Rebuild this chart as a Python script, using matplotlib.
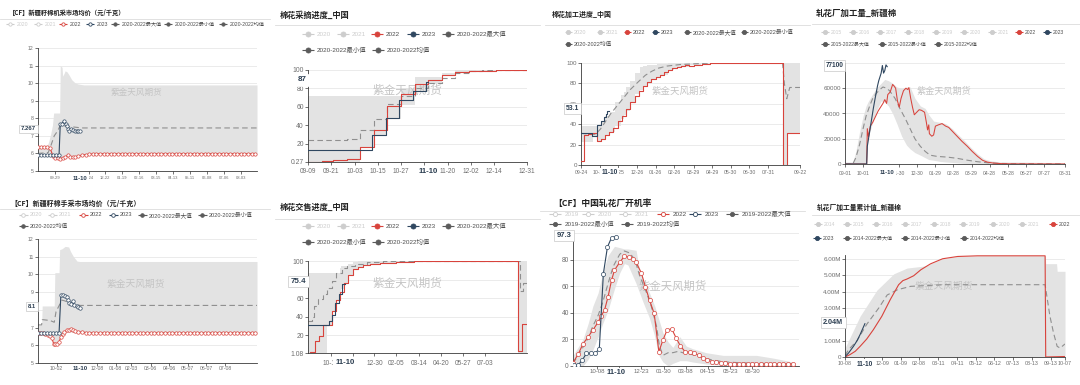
import datetime as dt
import matplotlib
matplotlib.use('Agg')
import matplotlib.pyplot as plt

plt.rcParams['font.family'] = ['Liberation Sans', 'Noto Sans CJK SC', 'DejaVu Sans']
plt.rcParams['axes.unicode_minus'] = False

W, H = 1080, 385
RED = '#d8433c'
BLUE = '#2f4760'
MEAN = '#8f8f8f'
BAND = '#e3e3e3'
LIGHT = '#cdcdcd'
DARK = '#5b5b5b'
NAVY = '#2b3d50'
WM = '#c4c4c4'
TICKC = '#6e6e6e'
CJK = ['Noto Sans CJK SC', 'DejaVu Sans']

# ============================ DATA ============================
# ---- Panel 1: 【CF】新疆籽棉机采市场均价 (x = days since season start) ----
p1_start = '2023-09-01'
p1_xticks = ['09-29', '11-24', '12-22', '01-19', '02-16', '03-15', '04-13', '05-11', '06-08', '07-06', '08-03']
p1_yticks = [5, 6, 7, 8, 9, 10, 11, 12]
p1_yticklabels = ['5', '6', '7', '8', '9', '10', '11', '12']
p1_band_x = [0, 15, 18, 21, 24, 26, 30, 33, 36, 37, 40, 41, 44, 45, 48, 51, 56, 62, 67, 76, 80, 364]
p1_band_hi = [6.4, 6.4, 6.7, 7.1, 7.6, 8.3, 8.3, 8.3, 8.3, 11.0, 10.9, 10.4, 10.6, 10.7, 10.65, 10.5, 10.2, 10.0, 9.95, 9.9, 9.9, 9.9]
p1_band_lo = [5.93, 5.93, 5.93, 5.93, 5.85, 5.8, 5.72, 5.68, 5.7, 5.7, 5.72, 5.74, 5.78, 5.8, 5.85, 5.88, 5.82, 5.8, 5.85, 5.9, 5.93, 5.95]
p1_mean_x = [0, 17, 22, 27, 33, 37, 45, 60, 73, 364]
p1_mean_y = [6.0, 6.05, 6.5, 7.0, 7.3, 7.6, 7.55, 7.5, 7.45, 7.45]
p1_2023_x = [0, 5, 10, 15, 20, 25, 30, 35, 37, 40, 43, 46, 48, 50, 52, 55, 58, 61, 64, 67, 70]
p1_2023_y = [5.93, 5.93, 5.93, 5.93, 5.93, 5.93, 5.93, 5.93, 7.65, 7.7, 7.85, 7.65, 7.55, 7.4, 7.25, 7.4, 7.35, 7.3, 7.25, 7.3, 7.267]
p1_2022_x = [0, 5, 10, 15, 20, 25, 29, 33, 37, 41, 45, 50, 54, 58, 62, 67, 73,
             79, 85, 91, 97, 103, 109, 115, 121, 127, 133, 139, 145, 151, 157, 163, 169,
             175, 181, 187, 193, 199, 205, 211, 217, 223, 229, 235, 241, 247, 253, 259, 265,
             271, 277, 283, 289, 295, 301, 307, 313, 319, 325, 331, 337, 343, 349, 355, 361]
p1_2022_y = [6.35, 6.35, 6.35, 6.34, 6.3, 5.85, 5.75, 5.72, 5.7, 5.75, 5.8, 5.9, 5.82, 5.78, 5.8, 5.85, 5.9,
             5.93, 5.95, 5.97, 5.98, 5.98, 5.98, 5.99, 5.98, 5.98, 5.98, 5.98, 5.98, 5.97, 5.98, 5.98, 5.98,
             5.98, 5.98, 5.98, 5.98, 5.98, 5.98, 5.98, 5.98, 5.98, 5.97, 5.98, 5.98, 5.98, 5.98, 5.98, 5.98,
             5.98, 5.98, 5.98, 5.98, 5.98, 5.98, 5.98, 5.98, 5.98, 5.98, 5.98, 5.98, 5.98, 5.98, 5.98, 5.98]

# ---- Panel 2: 棉花采摘进度_中国 ----
p2_start = '2023-09-09'
p2_xticks = ['09-09', '09-21', '10-03', '10-15', '10-27', '11-08', '11-20', '12-02', '12-14', '12-31']
p2_hidden = ['11-08']
p2_yticks = [0.27, 20, 40, 60, 80, 100]
p2_yticklabels = ['0.27', '20', '40', '60', '80', '100']
p2_band_x = [0, 27, 34, 41, 48, 55, 62, 69, 76, 83, 90, 113]
p2_band_hi = [72, 72, 72, 72, 80, 92, 92, 97, 99.5, 100, 100, 100]
p2_band_lo = [0.27, 15, 29, 47, 62, 76, 85, 93, 97, 98.8, 99.3, 100]
p2_mean_x = [0, 20, 27, 34, 41, 48, 55, 62, 69, 76, 83, 90, 113]
p2_mean_y = [24.5, 25.5, 35.5, 47, 63, 72, 80, 86, 91, 96.5, 99, 99.5, 100]
p2_2022_x = [0, 7, 13, 20, 27, 34, 41, 48, 55, 62, 69, 76, 83, 90, 97, 104, 113]
p2_2022_y = [0.5, 1.5, 2.5, 3.5, 16, 34.5, 61, 73.5, 85, 89.5, 95, 98, 98.8, 99.3, 99.6, 99.8, 100]
p2_2023_x = [0, 33, 40, 47, 54, 61, 62]
p2_2023_y = [13, 29.5, 48.5, 67.5, 77, 87, 87]

# ---- Panel 3: 棉花加工进度_中国 ----
p3_start = '2023-09-24'
p3_xticks = ['09-24', '10-25', '11-25', '12-26', '01-26', '02-26', '03-29', '04-29', '05-30', '06-30', '07-31', '09-22']
p3_yticks = [0, 20, 40, 60, 80, 100]
p3_yticklabels = ['0', '20', '40', '60', '80', '100']
p3_band_x = [0, 14, 20, 27, 33, 40, 48, 57, 66, 71, 75, 82, 90, 98, 103, 110, 117, 126, 131, 145, 154, 160, 180, 200, 220, 335, 343, 364]
p3_band_hi = [38, 38, 38, 38, 42, 48, 52, 62, 69, 72, 76, 82, 90, 96, 97, 98, 98.5, 99, 99.3, 99.6, 100, 100, 100, 100, 100, 100, 100, 100]
p3_band_lo = [22.5, 22.5, 28, 24, 25, 28, 32, 38, 45, 49, 53, 62, 70, 74, 77, 80, 83, 86, 88, 93, 94.5, 96, 98, 99, 100, 0, 31, 31]
p3_mean_x = [0, 24, 32, 40, 49, 60, 71, 82, 96, 107, 118, 129, 143, 165, 192, 220, 335, 338, 342, 347, 364]
p3_mean_y = [31, 30, 35, 42, 50, 58, 66, 74, 82, 88, 92, 95, 97, 98.5, 99.3, 100, 100, 80, 65, 76, 76]
p3_2022_x = [0, 5, 12, 19, 26, 33, 40, 47, 54, 61, 68, 75, 82, 89, 96, 103, 110, 117, 124, 131,
             138, 145, 152, 159, 166, 173, 180, 187, 194, 201, 208, 215, 222, 335, 343, 364]
p3_2022_y = [3.5, 29, 30, 31, 24, 25.5, 29, 32.5, 36, 43, 48, 55, 62, 68, 73, 77, 81, 84, 86, 88,
             91, 93, 95, 96, 97, 98, 97.5, 98, 98.5, 99, 99.5, 99.8, 100, 0, 31.5, 31.5]
p3_2023_x = [0, 19, 27, 34, 38, 41, 44, 47]
p3_2023_y = [31.5, 28.5, 39, 43, 47, 50, 53.1, 53.1]

# ---- Panel 4: 轧花厂加工量_新疆棉 ----
p4_start = '2023-09-01'
p4_xticks = ['09-01', '10-01', '11-30', '12-30', '01-29', '02-28', '03-29', '04-28', '05-28', '06-27', '07-27', '08-31']
p4_yticks = [0, 20000, 40000, 60000, 80000]
p4_yticklabels = ['0', '20000', '40000', '60000', '']
p4_band_x = [0, 13, 18, 24, 30, 35, 38, 44, 52, 60, 66, 72, 79, 86, 94, 102, 108, 116, 125, 133,
             139, 147, 158, 167, 178, 186, 197, 209, 220, 231, 242, 259, 287, 332, 365]
p4_band_hi = [1500, 1500, 10000, 25000, 38000, 46000, 49000, 54000, 60000, 64000, 67000, 66000, 64000, 61000,
              60000, 61000, 61000, 52000, 46000, 44000, 39000, 34000, 33000, 32000, 28000, 24000, 19000,
              13000, 8000, 4000, 2500, 1500, 1500, 1200, 1000]
p4_band_lo = [0, 0, 0, 0, 0, 0, 20000, 30000, 42000, 50000, 49000, 46000, 40000, 32000, 22000, 15000,
              12000, 9000, 7000, 5000, 3500, 3000, 2000, 1600, 1200, 900, 500, 300, 0, 0, 0, 0, 0, 0, 0]
p4_mean_x = [0, 13, 18, 24, 30, 35, 41, 46, 52, 58, 63, 69, 74, 83, 91, 100, 108, 116, 125, 133,
             141, 153, 169, 186, 203, 220, 236, 253, 276, 332, 365]
p4_mean_y = [0, 0, 5000, 15000, 28000, 38000, 46000, 52000, 56000, 59000, 61000, 60000, 58000, 52000,
             44000, 36000, 28000, 20000, 14000, 10000, 7000, 6000, 5500, 4500, 3000, 1800, 1000, 500,
             300, 200, 100]
p4_2022_x = [0, 36, 37, 39, 42, 46, 50, 55, 59, 63, 66, 69, 71, 75, 79, 81, 84, 87, 90, 93,
             97, 101, 104, 106, 109, 112, 115, 119, 123, 127, 132, 135, 137, 139, 140, 144, 147, 150,
             155, 161, 167, 172, 178, 186, 194, 203, 211, 220, 228, 236, 245, 259, 276, 365]
p4_2022_y = [0, 0, 28000, 21500, 30000, 33000, 37000, 42000, 45000, 48000, 51000, 48000, 55000, 57000,
             63000, 62000, 60000, 50000, 45000, 52000, 58000, 60000, 59000, 60500, 52000, 45000, 39000,
             41000, 43000, 42500, 41000, 33000, 27000, 31000, 24000, 22000, 23000, 30000, 31000, 32000,
             30000, 29000, 26000, 22000, 18000, 14000, 10000, 6000, 3000, 1500, 800, 300, 100, 0]
p4_2023_x = [0, 36, 37, 39, 41, 43, 45, 47, 50, 52, 54, 56, 58, 60, 62, 64, 66, 68, 70]
p4_2023_y = [0, 0, 14000, 20000, 26000, 32000, 38000, 44000, 52000, 57000, 62000, 66000, 69000, 72000,
             78000, 72000, 74000, 78500, 77100]

# ---- Panel 5: 【CF】新疆籽棉手采市场均价 ----
p5_start = '2023-09-01'
p5_xticks = ['10-02', '12-08', '01-08', '02-03', '03-06', '04-06', '05-07', '06-07', '07-08']
p5_yticks = [5, 6, 7, 8, 9, 10, 11, 12]
p5_yticklabels = ['5', '6', '7', '', '9', '10', '11', '12']
p5_band_x = [0, 6, 7, 20, 25, 27, 28, 31, 35, 36, 40, 45, 48, 51, 54, 59, 65, 70, 364]
p5_band_hi = [7.14, 7.14, 8.22, 8.22, 8.22, 8.22, 10.1, 10.1, 10.1, 11.4, 11.45, 11.58, 11.57, 11.55, 11.3, 11.0, 10.75, 10.73, 10.73]
p5_band_lo = [6.68, 6.66, 6.65, 6.55, 6.35, 6.1, 6.05, 6.1, 6.25, 6.35, 6.55, 6.7, 6.75, 6.75, 6.75, 6.72, 6.7, 6.7, 6.7]
p5_mean_x = [0, 6, 7, 20, 27, 30, 36, 40, 45, 55, 70, 364]
p5_mean_y = [7.15, 7.15, 7.45, 7.4, 7.3, 7.9, 8.3, 8.55, 8.5, 8.35, 8.25, 8.25]
p5_2023_x = [0, 5, 10, 15, 20, 25, 30, 35, 38, 41, 45, 48, 50, 52, 55, 58, 60, 64, 67, 70]
p5_2023_y = [6.7, 6.7, 6.7, 6.7, 6.7, 6.7, 6.7, 6.7, 8.82, 8.82, 8.78, 8.7, 8.55, 8.4, 8.35, 8.5, 8.3, 8.2, 8.15, 8.1]
p5_2022_x = [0, 4, 8, 12, 16, 20, 23, 26, 29, 32, 35, 38, 41, 44, 48, 52, 55, 58, 62, 67, 73,
             79, 85, 91, 97, 103, 109, 115, 121, 127, 133, 139, 145, 151, 157, 163, 169,
             175, 181, 187, 193, 199, 205, 211, 217, 223, 229, 235, 241, 247, 253, 259, 265,
             271, 277, 283, 289, 295, 301, 307, 313, 319, 325, 331, 337, 343, 349, 355, 361]
p5_2022_y = [6.7, 6.7, 6.69, 6.62, 6.6, 6.55, 6.4, 6.1, 6.05, 6.1, 6.2, 6.45, 6.62, 6.75, 6.85, 6.88, 6.92, 6.85, 6.78, 6.75, 6.74,
             6.72, 6.71, 6.7, 6.7, 6.7, 6.7, 6.7, 6.7, 6.7, 6.7, 6.71, 6.7, 6.7, 6.7, 6.7, 6.7,
             6.7, 6.7, 6.7, 6.7, 6.7, 6.7, 6.7, 6.7, 6.7, 6.7, 6.7, 6.7, 6.7, 6.7, 6.7, 6.7,
             6.7, 6.7, 6.7, 6.7, 6.7, 6.7, 6.7, 6.7, 6.7, 6.7, 6.7, 6.7, 6.7, 6.7, 6.7, 6.7]

# ---- Panel 6: 棉花交售进度_中国 ----
p6_start = '2023-09-09'
p6_xticks = ['10-17', '11-23', '12-30', '02-05', '03-14', '04-20', '05-27', '07-03']
p6_hidden = ['11-23']
p6_yticks = [1.08, 20, 40, 60, 80, 100]
p6_yticklabels = ['1.08', '20', '40', '60', '', '100']
p6_band_x = [0, 32, 40, 47, 54, 56, 61, 68, 76, 85, 93, 104, 121, 149, 178, 217, 353, 369]
p6_band_hi = [87.5, 87.5, 87.5, 87.5, 92, 95, 95, 97, 99, 99.5, 100, 100, 100, 100, 100, 100, 100, 100]
p6_band_lo = [1.08, 30, 46, 57, 66, 70, 75, 84, 90, 93, 95.5, 96.5, 97.5, 98.5, 99.3, 100, 1.08, 1.08]
p6_mean_x = [0, 6, 10, 17, 25, 32, 40, 48, 57, 65, 79, 99, 127, 172, 354, 357, 362, 369]
p6_mean_y = [35, 40, 52, 59, 64, 71, 78, 87, 92, 95, 97, 98.5, 99.5, 100, 100, 68, 76, 76]
p6_2022_x = [0, 4, 11, 19, 25, 40, 47, 54, 61, 68, 76, 85, 93, 104, 121, 149, 178, 217, 353, 361, 369]
p6_2022_y = [1.2, 2.5, 14.5, 19.5, 31, 46.5, 58, 67, 76, 85, 91, 94, 96, 97, 98, 99, 99.5, 100, 3, 32.5, 32.5]
p6_2023_x = [0, 35, 40, 46, 52, 57, 62]
p6_2023_y = [31.5, 36, 42, 55, 65, 75.4, 75.4]

# ---- Panel 7: 【CF】中国轧花厂开机率 ----
p7_start = '2023-08-28'
p7_xticks = ['10-08', '11-15', '12-23', '01-30', '03-08', '04-15', '05-23', '06-30']
p7_hidden = ['11-15']
p7_yticks = [0, 20, 40, 60, 80, 100]
p7_yticklabels = ['0', '20', '40', '60', '80', '']
p7_band_x = [0, 17, 26, 34, 43, 51, 60, 71, 80, 88, 94, 108, 114, 120, 131, 140, 147, 154, 163, 171,
             183, 194, 205, 228, 257, 285, 314, 342, 377]
p7_band_hi = [8, 20, 32, 45, 55, 70, 83, 90, 89, 88, 88, 87, 72, 65, 55, 45, 35, 25, 18, 14,
              22, 15, 13, 10, 8, 8, 8, 6, 3]
p7_band_lo = [0, 0, 5, 12, 22, 32, 42, 58, 70, 77, 76, 62, 55, 48, 36, 22, 8, 3, 0, 2,
              4, 4, 3, 1.5, 0.5, 0, 0, 0, 0]
p7_mean_x = [0, 9, 17, 26, 34, 43, 51, 60, 69, 80, 88, 97, 106, 114, 126, 134, 143, 148, 154, 163,
             171, 180, 188, 200, 211, 223, 234, 245, 262, 285, 314, 342, 377]
p7_mean_y = [2, 8, 14, 21, 30, 38, 48, 62, 75, 84, 86.5, 85, 80, 68, 55, 45, 30, 15, 8, 10,
             10, 11, 10, 9, 8, 6, 5, 4, 3, 2.5, 2, 2, 1.5]
p7_2022_x = [0, 9, 17, 26, 34, 43, 48, 54, 60, 66, 71, 80, 88, 96, 103, 108, 117, 124, 131, 139,
             147, 154, 161, 169, 177, 184, 192, 200, 207, 215, 222, 230, 238, 245, 253, 261, 268, 276,
             284, 291, 299, 307, 314, 322, 330, 337, 345, 353, 360, 368, 376]
p7_2022_y = [2.5, 9, 16.5, 22, 27, 33, 37.5, 42, 52, 64.5, 72, 78, 82.5, 82, 80.7, 78, 70, 59.5, 49.5, 39.5,
             10.75, 19.5, 27, 28, 20.7, 15, 10.75, 10.25, 9.5, 8.25, 5.75, 4.5, 3.25, 2.75, 2.5, 2, 1.75, 1.5,
             1.5, 1.5, 1.5, 1.5, 1.5, 1.5, 1.5, 1.5, 1.5, 1.5, 1.5, 1.5, 1.5]
p7_2023_x = [2, 9, 16, 23, 30, 37, 45, 52, 59, 66, 74]
p7_2023_y = [0.8, 0.8, 4.5, 9.5, 9.5, 9.5, 12.5, 69.5, 89.5, 96.5, 97.3]

# ---- Panel 8: 轧花厂加工量累计值_新疆棉 (million) ----
p8_start = '2023-10-08'
p8_xticks = ['10-08', '11-08', '12-09', '01-09', '02-08', '03-11', '04-11', '05-12', '06-12', '07-13', '08-13', '09-13', '10-07']
p8_hidden = ['11-08']
p8_yticks = [0, 1, 2, 3, 4, 5, 6]
p8_yticklabels = ['0', '1.00M', '', '3.00M', '4.00M', '5.00M', '6.00M']
p8_band_x = [0, 25, 53, 81, 103, 126, 137, 142, 162, 187, 220, 332, 333, 351, 352, 365]
p8_band_hi = [0.55, 2.5, 4.1, 5.1, 5.45, 5.55, 5.6, 5.71, 6.02, 6.16, 6.2, 6.2, 5.72, 5.72, 5.25, 5.25]
p8_band_lo = [0, 0, 0, 0, 0, 0, 0, 0, 0, 0, 0, 0, 0, 0, 0, 0]
p8_mean_x = [0, 6, 20, 36, 56, 70, 87, 109, 165, 332, 335, 340, 346, 352, 357, 365]
p8_mean_y = [0.1, 0.45, 1.0, 2.0, 3.0, 3.8, 4.12, 4.33, 4.43, 4.43, 3.7, 2.5, 1.47, 0.65, 0.55, 0.8]
p8_2022_x = [0, 8, 17, 25, 36, 47, 61, 75, 89, 96, 103, 114, 126, 142, 162, 187, 220, 332, 333, 365]
p8_2022_y = [0, 0.14, 0.35, 0.65, 1.1, 1.67, 2.49, 3.51, 4.43, 4.68, 4.78, 4.98, 5.35, 5.71, 6.02, 6.16, 6.2, 6.2, 0, 0.03]
p8_2023_x = [0, 6, 14, 20, 25, 33]
p8_2023_y = [0.02, 0.25, 0.65, 1.0, 1.37, 2.04]

CROSS_DATE = '11-10'


# ============================ HELPERS ============================
def day_of(start, mmdd):
    s = dt.date.fromisoformat(start)
    m, d = (int(v) for v in mmdd.split('-'))
    y = s.year if (m, d) >= (s.month, s.day) else s.year + 1
    return (dt.date(y, m, d) - s).days


fig = plt.figure(figsize=(W / 100, H / 100), dpi=100)
fig.patch.set_facecolor('white')

ov = fig.add_axes([0, 0, 1, 1], zorder=10)
ov.set_xlim(0, W)
ov.set_ylim(H, 0)
ov.set_autoscale_on(False)
ov.axis('off')
ov.patch.set_alpha(0)


def make_axes(rect, xlim, ylim, yt, ytl, start, xt, xfs, yfs, xpad, hidden=()):
    l, r, t, b = rect
    ax = fig.add_axes([l / W, 1 - b / H, (r - l) / W, (b - t) / H])
    ax.set_xlim(*xlim)
    ax.set_ylim(*ylim)
    ax.set_facecolor('none')
    ax.spines['top'].set_visible(False)
    ax.spines['right'].set_visible(False)
    for s in ('left', 'bottom'):
        ax.spines[s].set_color('#3a3a3a')
        ax.spines[s].set_linewidth(0.6)
    ax.set_yticks(yt)
    ax.set_yticklabels(ytl)
    ax.set_xticks([day_of(start, m) for m in xt])
    ax.set_xticklabels(['' if m in hidden else m for m in xt])
    ax.tick_params(axis='both', length=2, width=0.5, color='#3a3a3a', labelcolor=TICKC)
    ax.tick_params(axis='x', labelsize=xfs, pad=xpad)
    ax.tick_params(axis='y', labelsize=yfs, pad=1)
    for v in yt:
        if v != ylim[0]:
            ax.axhline(v, color='#e8e8e8', lw=0.6, zorder=0.5)
    return ax


def ycross(ax, val, txt, fs, border=True):
    ax.annotate(txt, xy=(0, val), xycoords=('axes fraction', 'data'), xytext=(-1.2, 0),
                textcoords='offset points', ha='right', va='center', fontsize=fs,
                fontweight='bold', color=NAVY, zorder=6, annotation_clip=False,
                bbox=dict(boxstyle='square,pad=0.3', fc='white',
                          ec=('#c8c8c8' if border else 'white'), lw=0.5))


def xcross(ax, start, fs, off_px):
    ax.annotate(CROSS_DATE, xy=(day_of(start, CROSS_DATE), 0), xycoords=('data', 'axes fraction'),
                xytext=(0, -off_px * 0.72), textcoords='offset points', ha='center', va='center',
                fontsize=fs, fontweight='bold', color=NAVY, zorder=6, annotation_clip=False,
                bbox=dict(boxstyle='square,pad=0.25', fc='white', ec='none'))


def watermark(ax, x, y, fs):
    ax.text(x, y, '紫金天风期货', transform=ov.transData, ha='center', va='center',
            fontsize=fs, color=WM, zorder=1.6, family=CJK)


def header(x, y, title, fs, rule_y, rx0, rx1):
    ov.text(x, y, title, fontsize=fs, fontweight='bold', color='#222222', ha='left',
            va='center', family=CJK)
    ov.plot([rx0, rx1], [rule_y, rule_y], color='#dcdcdc', lw=0.6)


COLS = {'off': LIGHT, 'r': RED, 'b': BLUE, 'k': DARK}


def legend(rows, fs, ms, half, gap, hollow):
    for y, items in rows:
        for x, lab, kind in items:
            col = COLS[kind]
            ov.plot([x - half, x + half], [y, y], color=col, lw=0.8, solid_capstyle='butt', zorder=1)
            face = 'white' if (hollow and kind != 'k') else col
            ov.plot([x], [y], marker='o', ms=ms, mfc=face, mec=col, mew=0.6, zorder=2)
            ov.text(x + half + gap, y, lab, fontsize=fs,
                    color=(LIGHT if kind == 'off' else '#4d4d4d'), ha='left', va='center')


def draw_series(ax, band, mean, s22, s23, step=False, markers=False, ms=2.4):
    kw_step = dict(step='post') if step else {}
    ds = 'steps-post' if step else 'default'
    ax.fill_between(band[0], band[2], band[1], color=BAND, lw=0, zorder=1, **kw_step)
    ax.plot(mean[0], mean[1], color=MEAN, lw=0.8, ls=(0, (5, 3)), zorder=2,
            drawstyle=ds)
    mk = dict(marker='o', ms=ms, mfc='white', mew=0.5) if markers else {}
    ax.plot(s22[0], s22[1], color=RED, lw=0.8, zorder=3, drawstyle=ds,
            **(dict(mk, mec=RED) if markers else {}))
    ax.plot(s23[0], s23[1], color=BLUE, lw=0.8, zorder=4, drawstyle=ds,
            **(dict(mk, mec=BLUE) if markers else {}))


# ============================ PANEL 1 ============================
ax1 = make_axes((38, 257, 48, 171), (0, 364), (5, 12), p1_yticks, p1_yticklabels,
                p1_start, p1_xticks, 3.0, 3.7, 1.4)
draw_series(ax1, (p1_band_x, p1_band_hi, p1_band_lo), (p1_mean_x, p1_mean_y),
            (p1_2022_x, p1_2022_y), (p1_2023_x, p1_2023_y), markers=True, ms=2.4)
ycross(ax1, 7.4, '7.267', 4.3)
xcross(ax1, p1_start, 4.2, 7)
watermark(ax1, 137, 92, 6.2)
header(9, 12, '【CF】新疆籽棉机采市场均价（元/千克）', 4.5, 19, 0, 270)
legend([(24, [(10, '2020', 'off'), (38, '2021', 'off'), (63, '2022', 'r'), (90, '2023', 'b'),
              (115, '2020-2022最大值', 'k'), (168, '2020-2022最小值', 'k'), (223, '2020-2022均值', 'k')])],
       3.7, 2.4, 4, 3, True)

# ============================ PANEL 2 ============================
ax2 = make_axes((308, 527, 70, 162), (0, 113), (0.27, 100), p2_yticks, p2_yticklabels,
                p2_start, p2_xticks, 4.7, 4.9, 2.4, p2_hidden)
draw_series(ax2, (p2_band_x, p2_band_hi, p2_band_lo), (p2_mean_x, p2_mean_y),
            (p2_2022_x, p2_2022_y), (p2_2023_x, p2_2023_y), step=True)
ycross(ax2, 89.5, '87', 5.8, border=False)
xcross(ax2, p2_start, 5.6, 10)
watermark(ax2, 407, 90, 8.4)
header(280, 15, '棉花采摘进度_中国', 5.9, 25, 275, 540)
legend([(34, [(308, '2020', 'off'), (343, '2021', 'off'), (377, '2022', 'r'), (413, '2023', 'b'),
              (448, '2020-2022最大值', 'k')]),
        (50, [(308, '2020-2022最小值', 'k'), (378, '2020-2022均值', 'k')])],
       4.6, 3.6, 6, 3, False)

# ============================ PANEL 3 ============================
ax3 = make_axes((581, 800, 63, 165), (0, 364), (0, 100), p3_yticks, p3_yticklabels,
                p3_start, p3_xticks, 3.7, 4.5, 1.9)
ax3.fill_between(p3_band_x, p3_band_lo, p3_band_hi, color=BAND, lw=0, zorder=1, step='post')
ax3.plot(p3_mean_x, p3_mean_y, color=MEAN, lw=0.8, ls=(0, (5, 3)), zorder=2)
ax3.plot(p3_2022_x, p3_2022_y, color=RED, lw=0.8, zorder=3, drawstyle='steps-post')
ax3.plot(p3_2023_x, p3_2023_y, color=BLUE, lw=0.8, zorder=4, drawstyle='steps-post')
ycross(ax3, 55, '53.1', 4.9)
xcross(ax3, p3_start, 4.7, 8)
watermark(ax3, 680, 91, 6.8)
header(552, 14, '棉花加工进度_中国', 5.0, 25, 545, 810)
legend([(32, [(568, '2020', 'off'), (600, '2021', 'off'), (627, '2022', 'r'), (655, '2023', 'b'),
              (687, '2020-2022最大值', 'k'), (744, '2020-2022最小值', 'k')]),
        (44, [(568, '2020-2022均值', 'k')])],
       4.1, 3.0, 3.5, 1.8, False)

# ============================ PANEL 4 ============================
ax4 = make_axes((845, 1065, 63, 164), (0, 365), (0, 80000), p4_yticks, p4_yticklabels,
                p4_start, p4_xticks, 3.6, 4.5, 2.7)
ax4.fill_between(p4_band_x, p4_band_lo, p4_band_hi, color=BAND, lw=0, zorder=1)
ax4.plot(p4_mean_x, p4_mean_y, color=MEAN, lw=0.8, ls=(0, (5, 3)), zorder=2)
ax4.plot(p4_2022_x, p4_2022_y, color=RED, lw=0.75, zorder=3)
ax4.plot(p4_2023_x, p4_2023_y, color=BLUE, lw=0.8, zorder=4)
ycross(ax4, 78000, '77100', 4.7)
xcross(ax4, p4_start, 4.2, 9)
watermark(ax4, 944, 91, 6.6)
header(816, 13, '轧花厂加工量_新疆棉', 6.1, 24, 812, 1080)
legend([(32, [(825, '2015', 'off'), (853, '2016', 'off'), (880, '2017', 'off'), (908, '2018', 'off'),
              (936, '2019', 'off'), (964, '2020', 'off'), (992, '2021', 'off'), (1019, '2022', 'r'),
              (1047, '2023', 'b')]),
        (44, [(825, '2015-2022最大值', 'k'), (882, '2015-2022最小值', 'k'), (938, '2015-2022均值', 'k')])],
       3.6, 3.0, 4, 2, False)

# ============================ PANEL 5 ============================
ax5 = make_axes((38, 257, 239, 363), (0, 364), (5, 12), p5_yticks, p5_yticklabels,
                p5_start, p5_xticks, 3.7, 3.7, 0.4)
draw_series(ax5, (p5_band_x, p5_band_hi, p5_band_lo), (p5_mean_x, p5_mean_y),
            (p5_2022_x, p5_2022_y), (p5_2023_x, p5_2023_y), markers=True, ms=2.5)
ycross(ax5, 8.2, '8.1', 4.2)
xcross(ax5, p5_start, 4.4, 6)
watermark(ax5, 136, 284, 7.0)
header(10, 203, '【CF】新疆籽棉手采市场均价（元/千克）', 5.0, 209, 0, 270)
legend([(215, [(23, '2020', 'off'), (52, '2021', 'off'), (83, '2022', 'r'), (113, '2023', 'b'),
               (142, '2020-2022最大值', 'k'), (202, '2020-2022最小值', 'k')]),
        (226, [(23, '2020-2022均值', 'k')])],
       4.1, 2.6, 4.5, 2.5, True)

# ============================ PANEL 6 ============================
ax6 = make_axes((308, 527, 261, 353), (0, 369), (1.08, 100), p6_yticks, p6_yticklabels,
                p6_start, p6_xticks, 4.7, 4.9, 2.8, p6_hidden)
draw_series(ax6, (p6_band_x, p6_band_hi, p6_band_lo), (p6_mean_x, p6_mean_y),
            (p6_2022_x, p6_2022_y), (p6_2023_x, p6_2023_y), step=True)
ycross(ax6, 78, '75.4', 5.8)
xcross(ax6, p6_start, 5.6, 10)
watermark(ax6, 407, 283, 8.4)
header(280, 207, '棉花交售进度_中国', 5.9, 219, 275, 540)
legend([(226, [(308, '2020', 'off'), (343, '2021', 'off'), (377, '2022', 'r'), (413, '2023', 'b'),
               (448, '2020-2022最大值', 'k')]),
        (242, [(308, '2020-2022最小值', 'k'), (378, '2020-2022均值', 'k')])],
       4.6, 3.6, 6, 3, False)

# ============================ PANEL 7 ============================
ax7 = make_axes((573, 799, 233, 366), (0, 387), (0, 100), p7_yticks, p7_yticklabels,
                p7_start, p7_xticks, 4.4, 4.8, 0.4, p7_hidden)
draw_series(ax7, (p7_band_x, p7_band_hi, p7_band_lo), (p7_mean_x, p7_mean_y),
            (p7_2022_x, p7_2022_y), (p7_2023_x, p7_2023_y), markers=True, ms=3.0)
ycross(ax7, 98, '97.3', 5.5)
xcross(ax7, p7_start, 5.4, 7)
watermark(ax7, 673, 286, 8.2)
header(553, 203, '【CF】中国轧花厂开机率', 6.3, 211, 540, 805)
legend([(214, [(555, '2019', 'off'), (588, '2020', 'off'), (625, '2021', 'off'), (663, '2022', 'r'),
               (695, '2023', 'b'), (732, '2019-2022最大值', 'k')]),
        (223.5, [(555, '2019-2022最小值', 'k'), (627, '2019-2022均值', 'k')])],
       4.6, 3.0, 6, 4, True)

# ============================ PANEL 8 ============================
ax8 = make_axes((845, 1065, 255, 357), (0, 365), (0, 6.25), p8_yticks, p8_yticklabels,
                p8_start, p8_xticks, 3.9, 4.5, 0.8, p8_hidden)
draw_series(ax8, (p8_band_x, p8_band_hi, p8_band_lo), (p8_mean_x, p8_mean_y),
            (p8_2022_x, p8_2022_y), (p8_2023_x, p8_2023_y))
ycross(ax8, 2.1, '2.04M', 5.2)
xcross(ax8, p8_start, 4.7, 7)
watermark(ax8, 944, 286, 7.0)
header(817, 207, '轧花厂加工量累计值_新疆棉', 4.9, 215, 812, 1080)
legend([(224, [(818, '2014', 'off'), (847, '2015', 'off'), (876, '2016', 'off'), (905, '2017', 'off'),
               (934, '2018', 'off'), (963, '2019', 'off'), (993, '2020', 'off'), (1022, '2021', 'off'),
               (1053, '2022', 'r')]),
        (238, [(817, '2023', 'b'), (847, '2014-2022最大值', 'k'), (905, '2014-2022最小值', 'k'),
               (964, '2014-2022均值', 'k')])],
       3.7, 3.0, 4, 2, False)

ov.set_xlim(0, W)
ov.set_ylim(H, 0)
fig.savefig('out.png', dpi=100, facecolor='white')
